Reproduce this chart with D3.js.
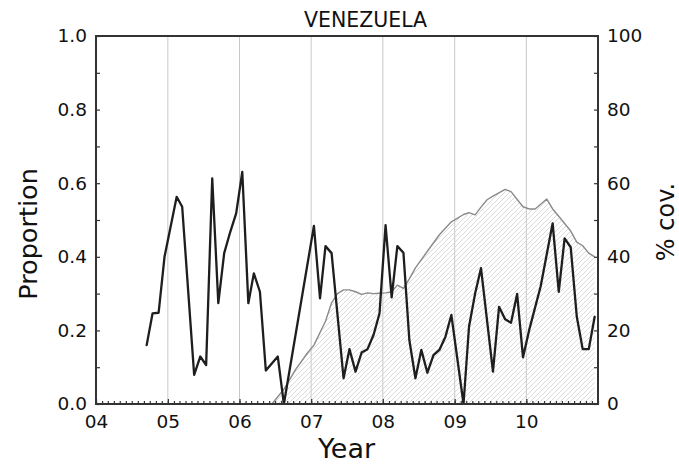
<!DOCTYPE html>
<meta charset="UTF-8">
<title>Venezuela</title>
<style>
  body { margin: 0; background: #fff; }
  text { font-family: "DejaVu Sans", sans-serif; fill: #111; }
</style>
<svg width="679" height="465"></svg>
<script src="https://d3js.org/d3.v7.min.js"></script>
<script>
// proportion, monthly (vertices)
var propMonths = ["2004-09","2004-10","2004-11","2004-12","2005-02","2005-03","2005-05","2005-06",
  "2005-07","2005-08","2005-09","2005-10","2005-11","2005-12","2006-01","2006-02","2006-03",
  "2006-04","2006-05","2006-07","2006-08","2007-01","2007-02","2007-03","2007-04","2007-06",
  "2007-07","2007-08","2007-09","2007-10","2007-11","2007-12","2008-01","2008-02","2008-03",
  "2008-04","2008-05","2008-06","2008-07","2008-08","2008-09","2008-10","2008-11","2008-12",
  "2009-02","2009-03","2009-04","2009-05","2009-07","2009-08","2009-09","2009-10","2009-11",
  "2009-12","2010-01","2010-03","2010-05","2010-06","2010-07","2010-08","2010-09","2010-10",
  "2010-11","2010-12"];
var propValues = [0.16,0.246,0.248,0.40,0.563,0.536,0.079,0.129,
  0.106,0.613,0.274,0.41,0.468,0.518,0.631,0.274,0.355,
  0.305,0.091,0.129,0.0,0.484,0.287,0.429,0.41,0.07,
  0.149,0.088,0.14,0.149,0.188,0.246,0.486,0.29,0.429,
  0.411,0.174,0.07,0.147,0.085,0.133,0.147,0.183,0.242,
  0.0,0.21,0.30,0.369,0.088,0.264,0.23,0.221,0.299,
  0.127,0.2,0.32,0.491,0.305,0.45,0.426,0.237,0.149,
  0.149,0.237];

// % coverage
var covMonths = ["2006-06","2006-08","2006-10","2006-12","2007-01","2007-03","2007-04","2007-05",
  "2007-06","2007-07","2007-08","2007-09","2007-10","2007-11","2007-12","2008-01","2008-02",
  "2008-03","2008-04","2008-05","2008-06","2008-08","2008-10","2008-12","2009-02","2009-03",
  "2009-04","2009-05","2009-06","2009-07","2009-09","2009-10","2009-12","2010-01","2010-02",
  "2010-04","2010-05","2010-06","2010-08","2010-09","2010-10","2010-11","2010-12"];
var covValues = [0,4,9.5,14,16,22.5,27.5,30,
  31,31,30.5,29.8,30.2,30,30.1,30.2,30.5,
  32.3,31.4,34,37,41.5,46,49.5,51.5,52,
  51.4,53.5,55.5,56.5,58.3,57.7,53.6,53,53,
  55.7,53,51,47,44,43,41,40];

var yearTicks = [2004,2005,2006,2007,2008,2009,2010];
var propTicks = [0,0.2,0.4,0.6,0.8,1.0];
var covTicks = [0,20,40,60,80,100];

var svg = d3.select("svg"),
    margin = {top: 36, right: 81, bottom: 61, left: 96},
    width = +svg.attr("width") - margin.left - margin.right,
    height = +svg.attr("height") - margin.top - margin.bottom,
    g = svg.append("g").attr("transform", "translate(" + margin.left + "," + margin.top + ")");

var parseMonth = d3.timeParse("%Y-%m");
function mid(s) { return d3.timeDay.offset(parseMonth(s), 14); }

var prop = propMonths.map(function(m, i) { return {date: mid(m), v: propValues[i]}; });
var cov = covMonths.map(function(m, i) { return {date: mid(m), v: covValues[i]}; });

var x = d3.scaleTime()
    .domain([new Date(2004, 0, 1), new Date(2011, 0, 1)])
    .range([0, width]);
var y = d3.scaleLinear().domain([0, 1]).range([height, 0]);
var y2 = d3.scaleLinear().domain([0, 100]).range([height, 0]);

var defs = svg.append("defs");
defs.append("clipPath").attr("id", "clip")
  .append("rect").attr("width", width).attr("height", height);
defs.append("pattern")
    .attr("id", "hatch")
    .attr("patternUnits", "userSpaceOnUse")
    .attr("width", 5).attr("height", 5)
  .append("path")
    .attr("d", "M-1,1 l2,-2 M0,5 l5,-5 M4,6 l2,-2")
    .attr("stroke", "#d2d2d2")
    .attr("stroke-width", 0.8);

// year gridlines
g.append("g")
  .selectAll("line")
  .data(yearTicks.slice(1))
  .enter().append("line")
    .attr("x1", function(d) { return x(new Date(d, 0, 1)); })
    .attr("x2", function(d) { return x(new Date(d, 0, 1)); })
    .attr("y1", 0).attr("y2", height)
    .attr("stroke", "#c8c8c8")
    .attr("stroke-width", 1);

var plot = g.append("g").attr("clip-path", "url(#clip)");

var area = d3.area()
    .x(function(d) { return x(d.date); })
    .y0(height)
    .y1(function(d) { return y2(d.v); });

plot.append("path")
    .datum(cov)
    .attr("fill", "url(#hatch)")
    .attr("d", area);

plot.append("path")
    .datum(cov)
    .attr("fill", "none")
    .attr("stroke", "#8a8a8a")
    .attr("stroke-width", 1.4)
    .attr("stroke-linejoin", "round")
    .attr("d", d3.line()
      .x(function(d) { return x(d.date); })
      .y(function(d) { return y2(d.v); }));

plot.append("path")
    .datum(prop)
    .attr("fill", "none")
    .attr("stroke", "#1e1e1e")
    .attr("stroke-width", 2.3)
    .attr("stroke-linejoin", "round")
    .attr("stroke-linecap", "round")
    .attr("d", d3.line()
      .x(function(d) { return x(d.date); })
      .y(function(d) { return y(d.v); }));

// axes
var yearFmt = d3.timeFormat("%y");
var xMinor = g.append("g")
    .attr("transform", "translate(0," + height + ")")
    .call(d3.axisBottom(x).ticks(d3.timeMonth.every(1)).tickSize(-3).tickFormat(""));
var xMajor = g.append("g")
    .attr("transform", "translate(0," + height + ")")
    .call(d3.axisBottom(x)
      .tickValues(yearTicks.map(function(d) { return new Date(d, 0, 1); }))
      .tickSize(-5).tickPadding(11).tickFormat(yearFmt));

var yMinor = g.append("g")
    .call(d3.axisLeft(y).tickValues([0.1,0.3,0.5,0.7,0.9]).tickSize(-4).tickFormat(""));
var yMajor = g.append("g")
    .call(d3.axisLeft(y).tickValues(propTicks).tickSize(-4).tickPadding(9).tickFormat(d3.format(".1f")));

var y2Minor = g.append("g")
    .attr("transform", "translate(" + width + ",0)")
    .call(d3.axisRight(y2).tickValues([10,30,50,70,90]).tickSize(-4).tickFormat(""));
var y2Major = g.append("g")
    .attr("transform", "translate(" + width + ",0)")
    .call(d3.axisRight(y2).tickValues(covTicks).tickSize(-4).tickPadding(9));

[xMinor, xMajor, yMinor, yMajor, y2Minor, y2Major].forEach(function(a) {
  a.select(".domain").remove();
  a.selectAll("line").attr("stroke", "#333").attr("stroke-width", 1.2);
  a.selectAll("text").style("font-size", "18.5px").attr("fill", "#111");
});

g.append("rect")
    .attr("width", width).attr("height", height)
    .attr("fill", "none")
    .attr("stroke", "#333")
    .attr("stroke-width", 2);

// labels
svg.append("text")
    .attr("x", 365.5).attr("y", 27.3)
    .attr("text-anchor", "middle")
    .style("font-size", "20.5px")
    .text("VENEZUELA");

svg.append("text")
    .attr("x", 346.5).attr("y", 458)
    .attr("text-anchor", "middle")
    .style("font-size", "27px")
    .text("Year");

svg.append("text")
    .attr("transform", "translate(37,234) rotate(-90)")
    .attr("text-anchor", "middle")
    .style("font-size", "25.5px")
    .text("Proportion");

svg.append("text")
    .attr("transform", "translate(674,222) rotate(-90)")
    .attr("text-anchor", "middle")
    .style("font-size", "24px")
    .text("% cov.");
</script>
